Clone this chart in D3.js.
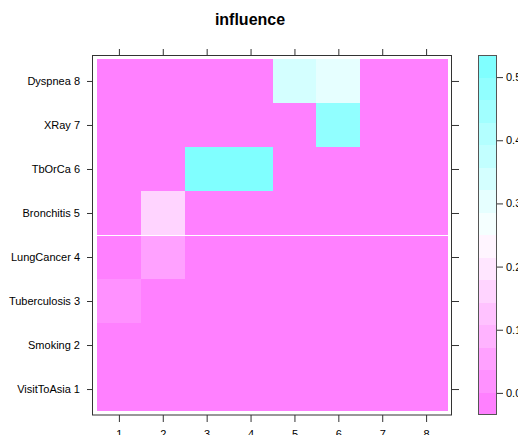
<!DOCTYPE html>
<html>
<head>
<script src="https://d3js.org/d3.v7.min.js"></script>
<style>
  body { margin: 0; background: #fff; }
  svg text { font-family: "Liberation Sans", Arial, sans-serif; }
</style>
</head>
<body>
<div id="chart"></div>
<script>
// columns (x) and row labels (y)
const columns = [1, 2, 3, 4, 5, 6, 7, 8];
const rowLabels = ["VisitToAsia 1", "Smoking 2", "Tuberculosis 3", "LungCancer 4",
                   "Bronchitis 5", "TbOrCa 6", "XRay 7", "Dyspnea 8"];

// influence values, one array per row
const visitToAsia  = [0, 0, 0, 0, 0, 0, 0, 0];
const smoking      = [0, 0, 0, 0, 0, 0, 0, 0];
const tuberculosis = [0.02, 0, 0, 0, 0, 0, 0, 0];
const lungCancer   = [0, 0.05, 0, 0, 0, 0, 0, 0];
const bronchitis   = [0, 0.16, 0, 0, 0, 0, 0, 0];
const tbOrCa       = [0, 0, 0.5, 0.5, 0, 0, 0, 0];
const xRay         = [0, 0, 0, 0, 0, 0.48, 0, 0];
const dyspnea      = [0, 0, 0, 0, 0.34, 0.30, 0, 0];

const keyTicks = [0, 0.1, 0.2, 0.3, 0.4, 0.5];

const rows = [visitToAsia, smoking, tuberculosis, lungCancer, bronchitis, tbOrCa, xRay, dyspnea];
const cells = [];
rows.forEach((vals, r) => vals.forEach((v, c) => cells.push({ row: r + 1, col: columns[c], value: v })));

const W = 518, H = 435;
const svg = d3.select("#chart").append("svg")
  .attr("width", W).attr("height", H);

// panel scales
const xScale = d3.scaleLinear().domain([0.41, 8.59]).range([93, 452]);
const yScale = d3.scaleLinear().domain([0.41, 8.59]).range([415, 55]);

// colour levels like lattice: 16 intervals over the extended range
const allVals = cells.map(d => d.value);
const zMin = d3.min(allVals), zMax = d3.max(allVals);
const ext = 0.07 * (zMax - zMin);
const lo = zMin - ext, hi = zMax + ext;
const nInt = 16;
const at = d3.range(nInt + 1).map(k => lo + k * (hi - lo) / nInt);

// magenta -> white -> cyan palette of 100 colours
function region(j) {
  if (j <= 50) {
    const s = 0.5 - (j - 1) * 0.01;
    const g = Math.round(255 * (1 - s));
    return d3.rgb(255, g, 255).formatHex();
  }
  const s = 0.01 * (j - 50);
  const r = Math.round(255 * (1 - s));
  return d3.rgb(r, 255, 255).formatHex();
}
const levelCols = d3.range(nInt).map(i => region(Math.round(1 + i * 99 / (nInt - 1))));
const colorScale = d3.scaleThreshold().domain(at.slice(1, nInt)).range(levelCols);

// cells
svg.append("g").selectAll("rect")
  .data(cells)
  .join("rect")
  .attr("x", d => xScale(d.col - 0.5))
  .attr("y", d => yScale(d.row + 0.5))
  .attr("width", d => xScale(d.col + 0.5) - xScale(d.col - 0.5))
  .attr("height", d => yScale(d.row - 0.5) - yScale(d.row + 0.5))
  .attr("fill", d => colorScale(d.value))
  .attr("shape-rendering", "crispEdges");

// thin white seam seen in the original between rows 4 and 5
svg.append("line")
  .attr("x1", xScale(0.5)).attr("x2", xScale(8.5))
  .attr("y1", Math.round(yScale(4.5)) + 0.5).attr("y2", Math.round(yScale(4.5)) + 0.5)
  .attr("stroke", "#fff").attr("stroke-width", 1);

// frame
svg.append("rect")
  .attr("x", 92.5).attr("y", 55.5)
  .attr("width", 452 - 93).attr("height", 415 - 55.5)
  .attr("fill", "none").attr("stroke", "#333");

function styleAxis(g) {
  g.select(".domain").remove();
  g.selectAll("line").attr("stroke", "#333");
  g.selectAll("text").attr("fill", "#000").style("font-size", "11px")
    .style("font-family", "'Liberation Sans', Arial, sans-serif");
}

svg.append("g").attr("transform", "translate(0,415)")
  .call(d3.axisBottom(xScale).tickValues(columns).tickSize(7).tickPadding(8).tickFormat(d3.format("d")))
  .call(styleAxis);
svg.append("g").attr("transform", "translate(0,55)")
  .call(d3.axisTop(xScale).tickValues(columns).tickSize(6).tickFormat(""))
  .call(styleAxis);
svg.append("g").attr("transform", "translate(93,0)")
  .call(d3.axisLeft(yScale).tickValues(d3.range(1, 9)).tickSize(6).tickPadding(7)
    .tickFormat(d => rowLabels[d - 1]))
  .call(styleAxis);
svg.append("g").attr("transform", "translate(452,0)")
  .call(d3.axisRight(yScale).tickValues(d3.range(1, 9)).tickSize(7).tickFormat(""))
  .call(styleAxis);

// colour key
const keyScale = d3.scaleLinear().domain([lo, hi]).range([415, 55]);
const keyX = 478, keyW = 19;
svg.append("g").selectAll("rect")
  .data(d3.range(nInt))
  .join("rect")
  .attr("x", keyX)
  .attr("y", i => keyScale(at[i + 1]))
  .attr("width", keyW)
  .attr("height", i => keyScale(at[i]) - keyScale(at[i + 1]))
  .attr("fill", i => levelCols[i])
  .attr("shape-rendering", "crispEdges");
svg.append("rect")
  .attr("x", keyX + 0.5).attr("y", 55.5)
  .attr("width", keyW - 1).attr("height", 359)
  .attr("fill", "none").attr("stroke", "#555");
svg.append("g").attr("transform", `translate(${keyX + keyW},0)`)
  .call(d3.axisRight(keyScale).tickValues(keyTicks).tickSize(6).tickPadding(3).tickFormat(d3.format(".1f")))
  .call(styleAxis);

// title
svg.append("text")
  .attr("x", 250).attr("y", 25)
  .attr("text-anchor", "middle")
  .style("font-size", "16px").style("font-weight", "bold")
  .text("influence");
</script>
</body>
</html>
